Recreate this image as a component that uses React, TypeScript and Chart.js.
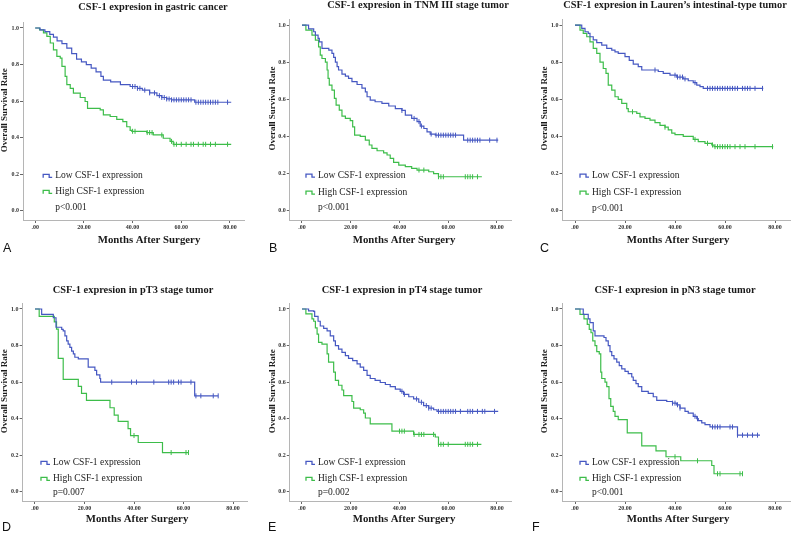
import React, { useEffect, useRef } from 'react';
import { Chart, registerables } from 'chart.js';

Chart.register(...registerables);

// ---------- shared labels ----------
const xTickValues = [0, 20, 40, 60, 80];
const xTickLabels = ['.00', '20.00', '40.00', '60.00', '80.00'];
const yTickValues = [0, 0.2, 0.4, 0.6, 0.8, 1.0];
const yTickLabels = ['0.0', '0.2', '0.4', '0.6', '0.8', '1.0'];
const seriesLabels = ['Low CSF-1 expression', 'High CSF-1 expression'];
const xAxisTitle = 'Months After Surgery';
const yAxisTitle = 'Overall Survival Rate';
const panelTitles = [
  'CSF-1 expresion in gastric cancer',
  'CSF-1 expresion in TNM III stage tumor',
  'CSF-1 expresion in Lauren\u2019s intestinal-type tumor',
  'CSF-1 expresion in pT3 stage tumor',
  'CSF-1 expresion in pT4 stage tumor',
  'CSF-1 expresion in pN3 stage tumor',
];
const panelLetters = ['A', 'B', 'C', 'D', 'E', 'F'];
const pValues = ['p<0.001', 'p<0.001', 'p<0.001', 'p=0.007', 'p=0.002', 'p<0.001'];

// ---------- survival curves: [months, survival] ----------
const aLow = [[0,1],[2,0.99],[4,0.98],[6,0.965],[7.5,0.95],[9,0.93],[11,0.915],[13,0.89],[15,0.86],[17,0.83],[19,0.815],[21,0.8],[23,0.78],[25,0.76],[27,0.735],[28,0.715],[31,0.705],[35,0.69],[39,0.68],[42,0.67],[44,0.66],[47,0.645],[50,0.63],[52,0.62],[54,0.612],[56,0.607],[65.5,0.594],[80.5,0.594]];
const aHigh = [[0,1],[1.8,0.99],[3.4,0.973],[4.8,0.954],[6.2,0.918],[7.5,0.88],[8.9,0.845],[10.3,0.835],[11,0.79],[12.3,0.735],[13,0.69],[14.4,0.67],[15.7,0.644],[18.5,0.62],[20.5,0.598],[21.5,0.56],[26.7,0.552],[28,0.525],[30.8,0.516],[33.5,0.5],[36,0.488],[37.6,0.46],[39,0.44],[39.7,0.435],[45.8,0.428],[48.5,0.415],[52.6,0.397],[55.4,0.38],[56.7,0.364],[80.5,0.364]];
const aLowCensor = [40,41,42,43,45,47,49,51,52,53,54,55,56,57,58,59,60,61,62,63,64,66,67,68,69,70,71,72,73,74,75,79];
const aHighCensor = [40,41,46,47,48,52,56,57,58,60,62,64,65,67,69,70,72,74,79];

const bLow = [[0,1],[2.7,0.98],[4.8,0.964],[5.5,0.946],[6.6,0.928],[7.1,0.91],[8.2,0.874],[11,0.865],[12.3,0.847],[13,0.826],[13.7,0.8],[14.4,0.776],[15,0.758],[16.4,0.736],[17.8,0.725],[19.1,0.713],[20.5,0.695],[22.6,0.68],[24.6,0.66],[26,0.64],[26.7,0.614],[28,0.596],[30,0.587],[32.8,0.578],[35.6,0.564],[38.3,0.55],[41,0.54],[42.4,0.515],[45,0.497],[47.2,0.48],[48.5,0.456],[50,0.443],[51.3,0.425],[52.6,0.413],[54.7,0.407],[66.3,0.38],[80.5,0.38]];
const bHigh = [[0,1],[1.6,0.973],[4.1,0.946],[5.5,0.919],[6.8,0.883],[7.5,0.838],[8.2,0.82],[9.6,0.8],[10.3,0.758],[10.7,0.713],[11.2,0.677],[12.3,0.65],[13.3,0.605],[14,0.569],[15.3,0.542],[16.4,0.51],[17.8,0.497],[19.8,0.485],[20.8,0.452],[21.6,0.407],[23.9,0.4],[26,0.38],[27.6,0.354],[28.7,0.336],[30.8,0.323],[33.5,0.312],[34.9,0.3],[36.2,0.282],[37.6,0.26],[39.7,0.246],[42.4,0.237],[45,0.228],[47.2,0.219],[52,0.21],[54,0.2],[56,0.183],[73.8,0.183]];
const bLowCensor = [41,46,48,49,53,55,56,57,58,59,60,61,62,63,68,69,70,71,72,73,77,80];
const bHighCensor = [48,50,56,57,58,67,68,69,70,72];

const cLow = [[0,1],[2.7,0.982],[4,0.964],[5.3,0.955],[6,0.937],[7.3,0.92],[8.7,0.905],[10.7,0.892],[12.7,0.874],[14.7,0.865],[16,0.856],[17.3,0.847],[20,0.83],[21.7,0.81],[23.3,0.79],[25.3,0.776],[26.7,0.758],[33.3,0.75],[35.3,0.74],[38,0.73],[40.7,0.72],[43.3,0.71],[45.3,0.7],[47.3,0.69],[48.7,0.677],[50,0.668],[51.3,0.659],[75.3,0.659]];
const cHigh = [[0,1],[2,0.973],[3.3,0.955],[4.7,0.937],[6,0.91],[7.3,0.874],[8.7,0.847],[10,0.8],[11.3,0.766],[12.4,0.74],[13.3,0.677],[14.7,0.65],[16,0.614],[17.3,0.6],[18.7,0.578],[20.7,0.55],[21.3,0.533],[24.7,0.524],[26,0.506],[28,0.497],[30,0.488],[32,0.474],[34,0.46],[36,0.45],[37.3,0.436],[38.7,0.418],[40,0.41],[43.3,0.4],[47.3,0.384],[49.3,0.372],[52,0.363],[54.7,0.354],[55.6,0.345],[79.3,0.345]];
const cLowCensor = [32,40,41,42,43,44,48,53,54,55,56,57,58,59,60,61,62,63,64,65,67,68,69,70,72,75];
const cHighCensor = [23,36,48,53,55,56,57,58,59,60,61,62,64,66,68,72,79];

const dLow = [[0,1],[2.7,0.97],[7.4,0.952],[8.5,0.9],[10.8,0.889],[11.4,0.88],[12.1,0.853],[12.8,0.826],[13.4,0.808],[14.1,0.79],[14.8,0.77],[15.5,0.754],[16.1,0.736],[17.5,0.727],[21.5,0.682],[24.2,0.664],[24.9,0.64],[26.2,0.62],[26.5,0.6],[64.5,0.525],[74,0.525]];
const dHigh = [[0,1],[1.7,0.96],[7.8,0.93],[8.7,0.89],[9.4,0.73],[11.4,0.615],[17.5,0.577],[18.8,0.538],[20.8,0.5],[30.3,0.46],[32,0.42],[33.6,0.385],[37.6,0.346],[38.6,0.308],[41.7,0.27],[51.5,0.215],[61.8,0.215]];
const dLowCensor = [31,39,41,48,54,55,56,58,59,63,65,67,72,74];
const dHighCensor = [40,55,61,62];

const eLow = [[0,1],[2.7,0.99],[4.8,0.987],[5.2,0.96],[6.6,0.933],[7.5,0.907],[8.9,0.894],[10.3,0.88],[11.6,0.853],[13,0.826],[13.7,0.8],[15,0.78],[16.4,0.763],[17.8,0.745],[19.1,0.73],[20.8,0.718],[22.6,0.7],[23.9,0.682],[25.3,0.664],[26.7,0.637],[28,0.62],[30,0.61],[32.1,0.598],[34.2,0.587],[36.2,0.575],[38.3,0.562],[40.3,0.55],[41.7,0.533],[43.8,0.52],[45.8,0.508],[47.9,0.49],[49.9,0.472],[52,0.458],[54,0.449],[55.4,0.44],[80.5,0.44]];
const eHigh = [[0,1],[1.6,0.973],[4.1,0.946],[4.8,0.933],[5.5,0.897],[6.2,0.862],[6.8,0.817],[8.2,0.808],[10.3,0.754],[10.9,0.709],[13,0.655],[13.7,0.61],[15,0.583],[16.4,0.557],[17.1,0.526],[20.5,0.494],[21.2,0.458],[23.9,0.449],[25.3,0.43],[26,0.404],[28,0.372],[36.9,0.332],[45.8,0.314],[54.7,0.3],[56,0.26],[73.6,0.26]];
const eLowCensor = [41,42,47,49,51,52,53,56,57,58,59,60,61,62,63,65,68,69,70,72,74,75,79];
const eHighCensor = [40,41,42,46,48,49,50,54,56,57,58,60,67,68,69,70,72];

const fLow = [[0,1],[3.3,0.97],[5.3,0.946],[6,0.925],[7.3,0.88],[8,0.853],[11.6,0.844],[12.4,0.826],[13.3,0.8],[14,0.767],[14.7,0.745],[15.6,0.727],[16.7,0.709],[17.7,0.69],[18.7,0.673],[20,0.659],[21.3,0.646],[22.7,0.628],[23.3,0.61],[24.4,0.592],[25.3,0.575],[26.7,0.55],[29.3,0.539],[31.3,0.52],[32.7,0.5],[36.7,0.494],[39,0.485],[40.7,0.476],[42,0.458],[44,0.44],[45.3,0.43],[47.3,0.413],[48.7,0.4],[49.3,0.39],[50.7,0.377],[52,0.368],[54,0.355],[65,0.31],[74,0.31]];
const fHigh = [[0,1],[2,0.97],[3.6,0.946],[4.9,0.916],[5.7,0.889],[6.4,0.87],[7.1,0.826],[8,0.8],[8.7,0.767],[9.7,0.754],[10.3,0.655],[10.7,0.62],[12,0.6],[12.7,0.575],[13.6,0.51],[14.3,0.467],[15.3,0.44],[16,0.413],[17.3,0.395],[20.9,0.323],[26.7,0.251],[32.4,0.224],[36.4,0.192],[42.3,0.17],[54.7,0.144],[55.6,0.099],[67,0.099]];
const fLowCensor = [39,40,41,42,48,49,55,56,57,58,62,63,65,67,69,71,73];
const fHighCensor = [40,49,57,58,66,67];

const lowCurves = [aLow, bLow, cLow, dLow, eLow, fLow];
const highCurves = [aHigh, bHigh, cHigh, dHigh, eHigh, fHigh];
const lowCensors = [aLowCensor, bLowCensor, cLowCensor, dLowCensor, eLowCensor, fLowCensor];
const highCensors = [aHighCensor, bHighCensor, cHighCensor, dHighCensor, eHighCensor, fHighCensor];

// ---------- styling / layout (page pixels) ----------
const BLUE = '#4658c2';
const GREEN = '#3dbd4a';
const SERIF = '"Liberation Serif", "Times New Roman", serif';
const SANS = '"Liberation Sans", Arial, sans-serif';

type Layout = {
  cx: number; cy: number; cw: number; ch: number;
  l: number; r: number; t: number; b: number;
  titleX: number; titleY: number;
  xTitleX: number; xTitleY: number;
  yTitleX: number;
  letterX: number; letterY: number;
  legDx: number; legDy: number[];
};

const layouts: Layout[] = [
  { cx: 0, cy: 0, cw: 265, ch: 267, l: 23, r: 244.6, t: 22.5, b: 220, titleX: 153, titleY: 7, xTitleX: 149, xTitleY: 240, yTitleX: 5, letterX: 3, letterY: 252, legDx: 20, legDy: [-35, -19, -3] },
  { cx: 265, cy: 0, cw: 265, ch: 267, l: 289.8, r: 511.6, t: 19.5, b: 220, titleX: 418, titleY: 5, xTitleX: 404, xTitleY: 240, yTitleX: 273, letterX: 269, letterY: 252, legDx: 16, legDy: [-35, -18, -3] },
  { cx: 530, cy: 0, cw: 270, ch: 267, l: 562.5, r: 790, t: 19.5, b: 220, titleX: 675, titleY: 5, xTitleX: 678, xTitleY: 240, yTitleX: 545, letterX: 540, letterY: 252, legDx: 17, legDy: [-35, -18, -2] },
  { cx: 0, cy: 267, cw: 265, ch: 267, l: 22.6, r: 247.9, t: 303.5, b: 501, titleX: 133, titleY: 290, xTitleX: 137, xTitleY: 519, yTitleX: 5, letterX: 2, letterY: 531, legDx: 18, legDy: [-29, -13, 1] },
  { cx: 265, cy: 267, cw: 265, ch: 267, l: 289.8, r: 511.6, t: 303.5, b: 501, titleX: 402, titleY: 290, xTitleX: 404, xTitleY: 519, yTitleX: 273, letterX: 268, letterY: 531, legDx: 16, legDy: [-29, -13, 1] },
  { cx: 530, cy: 267, cw: 270, ch: 267, l: 562.5, r: 790, t: 303.5, b: 501, titleX: 675, titleY: 290, xTitleX: 678, xTitleY: 519, yTitleX: 545, letterX: 532, letterY: 531, legDx: 17, legDy: [-29, -13, 1] },
];

function survivalAt(curve: number[][], t: number): number {
  let s = 1;
  for (const [ti, si] of curve) {
    if (ti <= t) s = si;
    else break;
  }
  return s;
}

const decorPlugin = {
  id: 'decor',
  afterDraw(chart: any, _args: any, opts: any) {
    const { ctx, scales } = chart;
    const L: Layout = opts.layout;
    const idx: number = opts.index;
    const ox = L.cx, oy = L.cy;
    ctx.save();
    ctx.fillStyle = '#1a1a1a';
    ctx.textBaseline = 'middle';
    // title
    ctx.font = `bold 10.4px ${SERIF}`;
    ctx.textAlign = 'center';
    ctx.fillText(panelTitles[idx], L.titleX - ox, L.titleY - oy);
    // x title
    ctx.font = `bold 10.8px ${SERIF}`;
    ctx.fillText(xAxisTitle, L.xTitleX - ox, L.xTitleY - oy);
    // y title
    const yMid = scales.y.getPixelForValue(0.55);
    ctx.save();
    ctx.translate(L.yTitleX - ox, yMid);
    ctx.rotate(-Math.PI / 2);
    ctx.font = `bold 9px ${SERIF}`;
    ctx.fillText(yAxisTitle, 0, 0);
    ctx.restore();
    // legend
    const x0 = scales.x.getPixelForValue(0);
    const y0 = scales.y.getPixelForValue(0);
    const tx = x0 + L.legDx;
    ctx.textAlign = 'left';
    ctx.font = `9.5px ${SERIF}`;
    const cols = [BLUE, GREEN];
    for (let i = 0; i < 2; i++) {
      const yy = y0 + L.legDy[i];
      ctx.strokeStyle = cols[i];
      ctx.lineWidth = 1.3;
      ctx.beginPath();
      ctx.moveTo(tx - 12, yy + 2);
      ctx.lineTo(tx - 12, yy - 1.5);
      ctx.lineTo(tx - 6, yy - 1.5);
      ctx.lineTo(tx - 6, yy + 1.5);
      ctx.lineTo(tx - 3, yy + 1.5);
      ctx.stroke();
      ctx.fillStyle = '#222';
      ctx.fillText(seriesLabels[i], tx, yy);
    }
    ctx.fillText(pValues[idx], tx, y0 + L.legDy[2]);
    // panel letter
    ctx.font = `12.5px ${SANS}`;
    ctx.textBaseline = 'alphabetic';
    ctx.fillStyle = '#111';
    ctx.fillText(panelLetters[idx], L.letterX - ox, L.letterY - oy);
    ctx.restore();
  },
};

function Panel({ index }: { index: number }) {
  const ref = useRef<HTMLCanvasElement | null>(null);
  const L = layouts[index];
  useEffect(() => {
    if (!ref.current) return;
    const low = lowCurves[index];
    const high = highCurves[index];
    const yAxisW = L.l - L.cx;
    const xAxisH = L.cy + L.ch - L.b;
    const chart = new Chart(ref.current, {
      type: 'line',
      data: {
        datasets: [
          {
            label: seriesLabels[0],
            data: low.map(([x, y]) => ({ x, y })),
            borderColor: BLUE, borderWidth: 1.2, pointRadius: 0, stepped: true, fill: false,
          },
          {
            label: seriesLabels[1],
            data: high.map(([x, y]) => ({ x, y })),
            borderColor: GREEN, borderWidth: 1.2, pointRadius: 0, stepped: true, fill: false,
          },
          {
            label: 'Low censored',
            data: lowCensors[index].map((x) => ({ x, y: survivalAt(low, x) })),
            showLine: false, pointStyle: 'line', rotation: 90, pointRadius: 2.5,
            borderColor: BLUE, pointBorderColor: BLUE, pointBorderWidth: 1,
          },
          {
            label: 'High censored',
            data: highCensors[index].map((x) => ({ x, y: survivalAt(high, x) })),
            showLine: false, pointStyle: 'line', rotation: 90, pointRadius: 2.5,
            borderColor: GREEN, pointBorderColor: GREEN, pointBorderWidth: 1,
          },
        ],
      },
      options: {
        animation: false,
        responsive: false,
        events: [],
        layout: {
          autoPadding: false,
          padding: { left: 0, top: L.t - L.cy, right: L.cx + L.cw - L.r, bottom: 0 },
        },
        plugins: {
          legend: { display: false },
          tooltip: { enabled: false },
          title: { display: false },
          decor: { layout: L, index },
        } as any,
        scales: {
          x: {
            type: 'linear',
            min: -5,
            max: 86,
            afterFit: (s: any) => { s.height = xAxisH; },
            afterBuildTicks: (s: any) => { s.ticks = xTickValues.map((v) => ({ value: v })); },
            ticks: {
              callback: (_v: any, i: number) => xTickLabels[i],
              font: { family: SERIF, size: 6, weight: 'bold' },
              color: '#333',
              padding: 1,
              maxRotation: 0,
              autoSkip: false,
            },
            grid: { drawOnChartArea: false, drawTicks: true, tickLength: 3, color: '#666' },
            border: { display: true, color: '#b5b5b5', width: 1 },
          },
          y: {
            type: 'linear',
            min: -0.05,
            max: 1.03,
            afterFit: (s: any) => { s.width = yAxisW; },
            afterBuildTicks: (s: any) => { s.ticks = yTickValues.map((v) => ({ value: v })); },
            ticks: {
              callback: (_v: any, i: number) => yTickLabels[i],
              font: { family: SERIF, size: 6, weight: 'bold' },
              color: '#333',
              padding: 1,
              autoSkip: false,
            },
            grid: { drawOnChartArea: false, drawTicks: true, tickLength: 3, color: '#666' },
            border: { display: true, color: '#b5b5b5', width: 1 },
          },
        },
      } as any,
      plugins: [decorPlugin as any],
    });
    return () => chart.destroy();
  }, [index]);
  return (
    <canvas
      ref={ref}
      width={L.cw}
      height={L.ch}
      style={{ position: 'absolute', left: L.cx, top: L.cy, width: L.cw, height: L.ch }}
    />
  );
}

export default function App() {
  return (
    <div style={{ position: 'absolute', left: 0, top: 0, width: 800, height: 534, background: '#fff', overflow: 'hidden' }}>
      {layouts.map((_, i) => (
        <Panel key={i} index={i} />
      ))}
    </div>
  );
}
